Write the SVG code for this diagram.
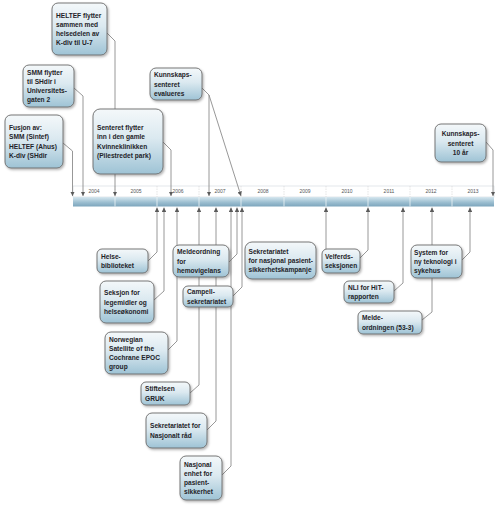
<svg xmlns="http://www.w3.org/2000/svg" width="500" height="505" viewBox="0 0 500 505">
<defs>
<style>
.box{fill:url(#bg);stroke:#6a6a6a;stroke-width:0.9;filter:url(#sh)}
.t{font-family:"Liberation Sans",Arial,sans-serif;font-weight:bold;font-size:6.6px;fill:#1e2328}
.tc{text-anchor:middle}
.yr{font-family:"Liberation Sans",Arial,sans-serif;font-size:5px;fill:#555;text-anchor:middle}
.conn path{fill:none;stroke:#8c8c8c;stroke-width:0.9;marker-end:url(#ah)}
</style>
<linearGradient id="bg" x1="0" y1="0" x2="0" y2="1">
<stop offset="0" stop-color="#f4f8fa"/>
<stop offset="0.45" stop-color="#dbe9f0"/>
<stop offset="1" stop-color="#9ec3d5"/>
</linearGradient>
<linearGradient id="bar" x1="0" y1="0" x2="0" y2="1">
<stop offset="0" stop-color="#d6e7ef"/>
<stop offset="0.55" stop-color="#9dbfd1"/>
<stop offset="1" stop-color="#7ca5bc"/>
</linearGradient>
<filter id="sh" x="-20%" y="-20%" width="150%" height="150%">
<feDropShadow dx="1.2" dy="1.5" stdDeviation="1" flood-color="#000" flood-opacity="0.3"/>
</filter>
<marker id="ah" viewBox="0 0 6 6" refX="6" refY="3" markerWidth="4.5" markerHeight="4.5" markerUnits="userSpaceOnUse" orient="auto">
<path d="M0,0 L6,3 L0,6 z" fill="#5a5a5a"/>
</marker>
</defs>
<rect width="500" height="505" fill="#fff"/>

<g id="timeline">
<rect x="73" y="186" width="421" height="11" fill="#fff" stroke="#cfd8dd" stroke-width="0.6"/>
<g stroke="#d4d4d4" stroke-width="0.6" stroke-dasharray="1.5,1">
<line x1="115" y1="186" x2="115" y2="197"/><line x1="157" y1="186" x2="157" y2="197"/>
<line x1="199" y1="186" x2="199" y2="197"/><line x1="241" y1="186" x2="241" y2="197"/>
<line x1="284" y1="186" x2="284" y2="197"/><line x1="326" y1="186" x2="326" y2="197"/>
<line x1="368" y1="186" x2="368" y2="197"/><line x1="410" y1="186" x2="410" y2="197"/>
<line x1="452" y1="186" x2="452" y2="197"/>
</g>
<text class="yr" x="94" y="193">2004</text><text class="yr" x="136" y="193">2005</text>
<text class="yr" x="178" y="193">2006</text><text class="yr" x="220" y="193">2007</text>
<text class="yr" x="263" y="193">2008</text><text class="yr" x="305" y="193">2009</text>
<text class="yr" x="347" y="193">2010</text><text class="yr" x="389" y="193">2011</text>
<text class="yr" x="431" y="193">2012</text><text class="yr" x="473" y="193">2013</text>
<rect x="73" y="197" width="421" height="9.5" fill="url(#bar)"/>
<g stroke="#eef5f8" stroke-width="0.8">
<line x1="115" y1="197" x2="115" y2="206.5"/><line x1="157" y1="197" x2="157" y2="206.5"/>
<line x1="199" y1="197" x2="199" y2="206.5"/><line x1="241" y1="197" x2="241" y2="206.5"/>
<line x1="284" y1="197" x2="284" y2="206.5"/><line x1="326" y1="197" x2="326" y2="206.5"/>
<line x1="368" y1="197" x2="368" y2="206.5"/><line x1="410" y1="197" x2="410" y2="206.5"/>
<line x1="452" y1="197" x2="452" y2="206.5"/>
</g>
</g>

<g id="connectors" class="conn">
<path d="M63,143 L72.5,151 L72.5,196"/>
<path d="M74,88 L83,96 L83,196"/>
<path d="M107,33 L115,41 L115,196"/>
<path d="M163,142 L171,150 L171,196"/>
<path d="M202,88 L209,95 L209,196"/>
<path d="M209,95 L241,196"/>
<path d="M486,142 L493,150 L493,196"/>
<path d="M148,261 L157,252 L157,207.5"/>
<path d="M154,300 L164,291 L164,207.5"/>
<path d="M168,350 L177,341 L177,207.5"/>
<path d="M190,393 L199,385 L199,207.5"/>
<path d="M207,430 L216,421 L216,207.5"/>
<path d="M222,475 L231,466 L231,207.5"/>
<path d="M229,262 L237,254 L237,207.5"/>
<path d="M233,296 L242,287 L242,207.5"/>
<path d="M326,249 L326,207.5"/>
<path d="M360,258 L368,250 L368,207.5"/>
<path d="M394,291 L403,283 L403,207.5"/>
<path d="M422,320 L432,312 L432,207.5"/>
<path d="M462,260 L470,252 L470,207.5"/>
</g>

<g id="n-fusjon"><rect class="box" x="5" y="115" width="58" height="53" rx="6"/>
<text class="t" x="9" y="130.2">Fusjon av:</text><text class="t" x="9" y="139.4">SMM (Sintef)</text><text class="t" x="9" y="148.6">HELTEF (Ahus)</text><text class="t" x="9" y="157.8">K-div (SHdir</text></g>

<g id="n-smm"><rect class="box" x="23" y="65" width="51" height="42" rx="6"/>
<text class="t" x="27" y="74.7">SMM flytter</text><text class="t" x="27" y="83.9">til SHdir i</text><text class="t" x="27" y="93.1">Universitets-</text><text class="t" x="27" y="102.3">gaten 2</text></g>

<g id="n-heltef"><rect class="box" x="52" y="3" width="55" height="52" rx="6"/>
<text class="t" x="56" y="17.7">HELTEF flytter</text><text class="t" x="56" y="26.9">sammen med</text><text class="t" x="56" y="36.1">helsedelen av</text><text class="t" x="56" y="45.3">K-div til U-7</text></g>

<g id="n-senteret"><rect class="box" x="93" y="109" width="70" height="65" rx="7"/>
<text class="t" x="97" y="130.2">Senteret flytter</text><text class="t" x="97" y="139.4">inn i den gamle</text><text class="t" x="97" y="148.6">Kvinneklinikken</text><text class="t" x="97" y="157.8">(Pilestredet park)</text></g>

<g id="n-evalueres"><rect class="box" x="150" y="68" width="52" height="32" rx="6"/>
<text class="t" x="154" y="77.3">Kunnskaps-</text><text class="t" x="154" y="86.5">senteret</text><text class="t" x="154" y="95.7">evalueres</text></g>

<g id="n-10aar"><rect class="box" x="435" y="124" width="51" height="38" rx="6"/>
<text class="t tc" x="460.5" y="136.3">Kunnskaps-</text><text class="t tc" x="460.5" y="145.5">senteret</text><text class="t tc" x="460.5" y="154.7">10 år</text></g>

<g id="n-helse"><rect class="box" x="97" y="249" width="51" height="24" rx="5"/>
<text class="t" x="101" y="258.9">Helse-</text><text class="t" x="101" y="268.1">biblioteket</text></g>

<g id="n-seksjon"><rect class="box" x="100" y="281" width="54" height="42" rx="6"/>
<text class="t" x="104" y="295.3">Seksjon for</text><text class="t" x="104" y="304.5">legemidler og</text><text class="t" x="104" y="313.7">helseøkonomi</text></g>

<g id="n-norwegian"><rect class="box" x="105" y="332" width="63" height="42" rx="6"/>
<text class="t" x="109" y="341.7">Norwegian</text><text class="t" x="109" y="350.9">Satellite of the</text><text class="t" x="109" y="360.1">Cochrane EPOC</text><text class="t" x="109" y="369.3">group</text></g>

<g id="n-gruk"><rect class="box" x="141" y="382" width="49" height="23" rx="5"/>
<text class="t" x="145" y="391.4">Stiftelsen</text><text class="t" x="145" y="400.6">GRUK</text></g>

<g id="n-nasjonalt-raad"><rect class="box" x="146" y="413" width="61" height="35" rx="6"/>
<text class="t" x="150" y="428.4">Sekretariatet for</text><text class="t" x="150" y="437.6">Nasjonalt råd</text></g>

<g id="n-nasjonal-enhet"><rect class="box" x="180" y="456" width="42" height="44" rx="6"/>
<text class="t" x="184" y="466.7">Nasjonal</text><text class="t" x="184" y="475.9">enhet for</text><text class="t" x="184" y="485.1">pasient-</text><text class="t" x="184" y="494.3">sikkerhet</text></g>

<g id="n-meldeordning"><rect class="box" x="173" y="245" width="56" height="32" rx="6"/>
<text class="t" x="177" y="254.3">Meldeordning</text><text class="t" x="177" y="263.5">for</text><text class="t" x="177" y="272.7">hemovigelans</text></g>

<g id="n-campell"><rect class="box" x="183" y="286" width="50" height="21" rx="5"/>
<text class="t" x="187" y="294.4">Campell-</text><text class="t" x="187" y="303.6">sekretariatet</text></g>

<g id="n-kampanje"><rect class="box" x="245" y="242" width="71" height="37" rx="7"/>
<text class="t" x="248.5" y="253.8">Sekretariatet</text><text class="t" x="248.5" y="263">for nasjonal pasient-</text><text class="t" x="248.5" y="272.2">sikkerhetskampanje</text></g>

<g id="n-velferd"><rect class="box" x="322" y="249" width="38" height="24" rx="5"/>
<text class="t" x="325" y="258.9">Velferds-</text><text class="t" x="325" y="268.1">seksjonen</text></g>

<g id="n-nli"><rect class="box" x="344" y="281" width="50" height="22" rx="5"/>
<text class="t" x="348" y="289.9">NLI for HiT-</text><text class="t" x="348" y="299.1">rapporten</text></g>

<g id="n-melde"><rect class="box" x="358" y="311" width="64" height="23" rx="5"/>
<text class="t" x="362" y="320.4">Melde-</text><text class="t" x="362" y="329.6">ordningen (53-3)</text></g>

<g id="n-system"><rect class="box" x="411" y="245" width="51" height="33" rx="6"/>
<text class="t" x="414" y="254.8">System for</text><text class="t" x="414" y="264">ny teknologi i</text><text class="t" x="414" y="273.2">sykehus</text></g>
</svg>
